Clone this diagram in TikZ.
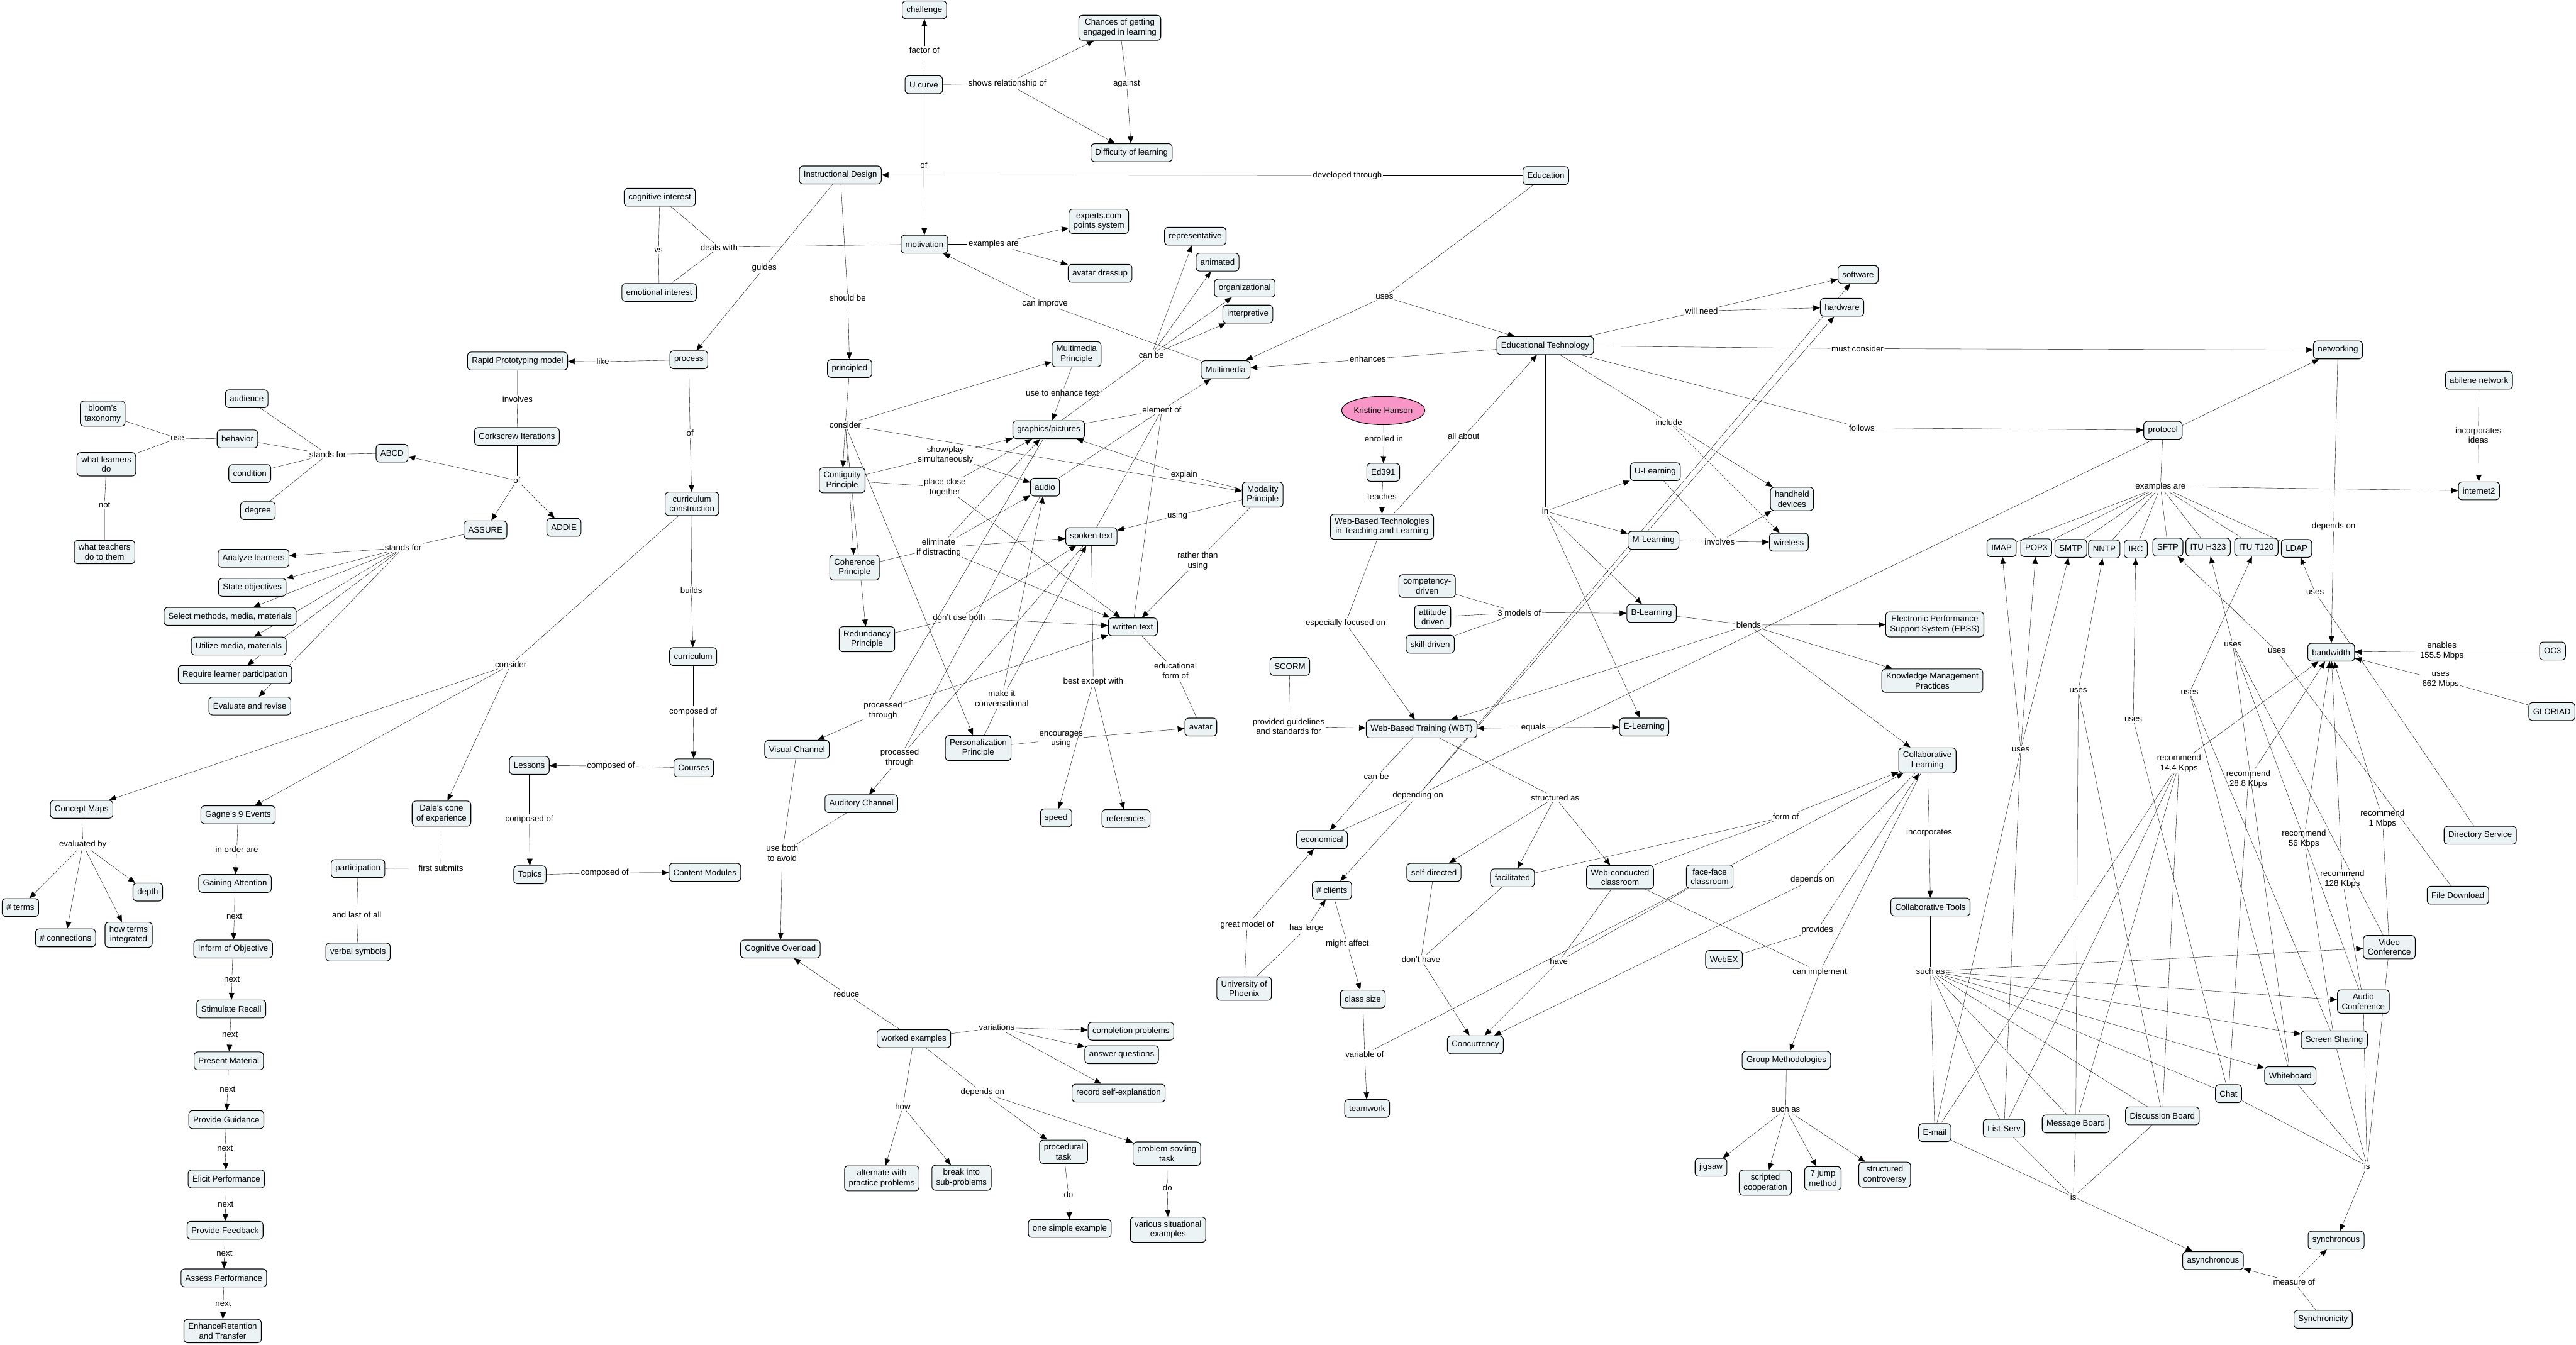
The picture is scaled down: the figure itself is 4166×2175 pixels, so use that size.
\documentclass[tikz,border=0pt]{standalone}
\usepackage{fontspec}
\setmainfont{Liberation Sans}
\usetikzlibrary{arrows.meta,shapes.geometric,backgrounds}
\definecolor{conceptfill}{RGB}{236,243,245}
\definecolor{personpink}{RGB}{249,150,200}

\begin{document}
\begin{tikzpicture}[x=1pt,y=-1pt,line width=1.1pt,
    every node/.style={font=\fontsize{13.5}{16}\selectfont},
    concept/.style={draw,rounded corners=6pt,fill=conceptfill,align=center,
                    inner xsep=7pt,inner ysep=6pt,minimum height=29pt},
    link/.style={inner sep=1.5pt,align=center},
    arr/.style={-{Triangle[length=11pt,width=9pt]}}]
  \useasboundingbox (0,0) rectangle (4166,2175);

  % concepts, left half
  \node[concept] (chal)    at (1495,16)  {challenge};
  \node[concept] (chanc)   at (1811,45)  {Chances of getting\\engaged in learning};
  \node[concept] (ucurve)  at (1494,137) {U curve};
  \node[concept] (diff)    at (1830,247) {Difficulty of learning};
  \node[concept] (instr)   at (1359,283) {Instructional Design};
  \node[concept] (educ)    at (2500,284) {Education};
  \node[concept] (cogint)  at (1067,319) {cognitive interest};
  \node[concept] (emoint)  at (1066,473) {emotional interest};
  \node[concept] (motiv)   at (1495,395) {motivation};
  \node[concept] (expcom)  at (1777,358) {experts.com\\points system};
  \node[concept] (avdress) at (1779,442) {avatar dressup};
  \node[concept] (repr)    at (1933,382) {representative};
  \node[concept] (anim)    at (1969,424) {animated};
  \node[concept] (organ)   at (2013,466) {organizational};
  \node[concept] (interp)  at (2018,508) {interpretive};
  \node[concept] (mmedia)  at (1982,598) {Multimedia};
  \node[concept] (proc)    at (1114,582) {process};
  \node[concept] (princ)   at (1374,596) {principled};
  \node[concept] (mmprin)  at (1741,573) {Multimedia\\Principle};
  \node[concept] (graph)   at (1696,695) {graphics/pictures};
  \node[concept] (rapid)   at (837,584)  {Rapid Prototyping model};
  \node[concept] (cork)    at (836,706)  {Corkscrew Iterations};
  \node[concept] (bloom)   at (166,669)  {bloom's\\taxonomy};
  \node[concept] (aud)     at (399,645)  {audience};
  \node[concept] (behav)   at (384,710)  {behavior};
  \node[concept] (wlearn)  at (172,751)  {what learners\\do};
  \node[concept] (abcd)    at (634,733)  {ABCD};
  \node[concept] (cond)    at (404,766)  {condition};
  \node[concept] (degr)    at (417,826)  {degree};
  \node[concept] (wteach)  at (169,893)  {what teachers\\do to them};
  \node[concept] (assure)  at (785,857)  {ASSURE};
  \node[concept] (addie)   at (912,853)  {ADDIE};
  \node[concept] (anal)    at (410,903)  {Analyze learners};
  \node[concept] (state)   at (408,950)  {State objectives};
  \node[concept] (select)  at (372,997)  {Select methods, media, materials};
  \node[concept] (util)    at (386,1045) {Utilize media, materials};
  \node[concept] (req)     at (380,1091) {Require learner participation};
  \node[concept] (evalr)   at (404,1142) {Evaluate and revise};
  \node[concept] (currc)   at (1119,815) {curriculum\\construction};
  \node[concept] (curr)    at (1121,1062) {curriculum};
  \node[concept] (courses) at (1122,1242) {Courses};
  \node[concept] (lessons) at (856,1238) {Lessons};
  \node[concept] (topics)  at (857,1415) {Topics};
  \node[concept] (content) at (1140,1411) {Content Modules};
  \node[concept] (cmaps)   at (132,1309) {Concept Maps};
  \node[concept] (gagne)   at (385,1318) {Gagne's 9 Events};
  \node[concept] (dale)    at (714,1316) {Dale's cone\\of experience};
  \node[concept] (partic)  at (579,1405) {participation};
  \node[concept] (verbal)  at (579,1540) {verbal symbols};
  \node[concept] (depth)   at (239,1443) {depth};
  \node[concept] (nterms)  at (33,1468)  {\# terms};
  \node[concept] (nconn)   at (106,1517) {\# connections};
  \node[concept] (howint)  at (208,1512) {how terms\\integrated};
  \node[concept] (gain)    at (380,1429) {Gaining Attention};
  \node[concept] (inform)  at (377,1535) {Inform of Objective};
  \node[concept] (recall)  at (374,1632) {Stimulate Recall};
  \node[concept] (present) at (370,1716) {Present Material};
  \node[concept] (guid)    at (366,1811) {Provide Guidance};
  \node[concept] (elicit)  at (366,1907) {Elicit Performance};
  \node[concept] (feedb)   at (364,1990) {Provide Feedback};
  \node[concept] (assess)  at (362,2067) {Assess Performance};
  \node[concept] (enh)     at (360,2153) {EnhanceRetention\\and Transfer};
  \node[concept] (contig)  at (1362,777) {Contiguity\\Principle};
  \node[concept] (coher)   at (1382,918) {Coherence\\Principle};
  \node[concept] (redund)  at (1402,1034) {Redundancy\\Principle};
  \node[concept] (person)  at (1582,1210) {Personalization\\Principle};
  \node[concept] (modal)   at (2042,800) {Modality\\Principle};
  \node[concept] (audio)   at (1690,788) {audio};
  \node[concept] (spoken)  at (1765,868) {spoken text};
  \node[concept] (written) at (1832,1014) {written text};
  \node[concept] (avatar)  at (1942,1176) {avatar};
  \node[concept] (speed)   at (1708,1323) {speed};
  \node[concept] (refs)    at (1821,1324) {references};
  \node[concept] (visual)  at (1289,1212) {Visual Channel};
  \node[concept] (audch)   at (1393,1300) {Auditory Channel};
  \node[concept] (cogov)   at (1262,1535) {Cognitive Overload};
  \node[concept] (worked)  at (1478,1680) {worked examples};
  \node[concept] (compl)   at (1829,1668) {completion problems};
  \node[concept] (answ)    at (1814,1706) {answer questions};
  \node[concept] (record)  at (1809,1768) {record self-explanation};
  \node[concept] (procd)   at (1720,1863) {procedural\\task};
  \node[concept] (probs)   at (1887,1866) {problem-sovling\\task};
  \node[concept] (altern)  at (1426,1906) {alternate with\\practice problems};
  \node[concept] (breakp)  at (1555,1905) {break into\\sub-problems};
  \node[concept] (onesimp) at (1730,1987) {one simple example};
  \node[concept] (various) at (1889,1989) {various situational\\examples};

  % concepts, right half
  \node[concept] (edtech)  at (2499,559) {Educational Technology};
  \node[concept] (soft)    at (3005,444) {software};
  \node[concept] (hard)    at (2979,497) {hardware};
  \node[draw,ellipse,fill=personpink,minimum width=117pt,minimum height=46pt,inner sep=0pt]
       (kris) at (2237,664) {Kristine Hanson};
  \node[concept] (ed391)   at (2237,764) {Ed391};
  \node[concept] (wbtech)  at (2235,852) {Web-Based Technologies\\in Teaching and Learning};
  \node[concept] (scorm)   at (2086,1078) {SCORM};
  \node[concept] (ulearn)  at (2677,763) {U-Learning};
  \node[concept] (mlearn)  at (2674,874) {M-Learning};
  \node[concept] (blearn)  at (2671,992) {B-Learning};
  \node[concept] (elearn)  at (2659,1176) {E-Learning};
  \node[concept] (handh)   at (2898,807) {handheld\\devices};
  \node[concept] (wirel)   at (2893,877) {wireless};
  \node[concept] (compd)   at (2308,948) {competency-\\driven};
  \node[concept] (attd)    at (2317,998) {attitude\\driven};
  \node[concept] (skilld)  at (2313,1042) {skill-driven};
  \node[concept] (epss)    at (3129,1010) {Electronic Performance\\Support System (EPSS)};
  \node[concept] (kmp)     at (3125,1101) {Knowledge Management\\Practices};
  \node[concept] (wbt)     at (2299,1179) {Web-Based Training (WBT)};
  \node[concept] (collab)  at (3117,1230) {Collaborative\\Learning};
  \node[concept] (econ)    at (2138,1358) {economical};
  \node[concept] (selfd)   at (2319,1411) {self-directed};
  \node[concept] (facil)   at (2446,1420) {facilitated};
  \node[concept] (webcl)   at (2620,1419) {Web-conducted\\classroom};
  \node[concept] (facecl)  at (2765,1418) {face-face\\classroom};
  \node[concept] (nclients) at (2154,1440) {\# clients};
  \node[concept] (ctools)  at (3122,1467) {Collaborative Tools};
  \node[concept] (webex)   at (2788,1552) {WebEX};
  \node[concept] (uphx)    at (2012,1599) {University of\\Phoenix};
  \node[concept] (csize)   at (2204,1616) {class size};
  \node[concept] (concur)  at (2386,1690) {Concurrency};
  \node[concept] (teamw)   at (2211,1793) {teamwork};
  \node[concept] (groupm)  at (2889,1715) {Group Methodologies};
  \node[concept] (jigsaw)  at (2767,1888) {jigsaw};
  \node[concept] (scripted) at (2855,1913) {scripted\\cooperation};
  \node[concept] (jump)    at (2948,1906) {7 jump\\method};
  \node[concept] (struct)  at (3048,1900) {structured\\controversy};
  \node[concept] (netw)    at (3781,566) {networking};
  \node[concept] (abil)    at (4009,615) {abilene network};
  \node[concept] (prot)    at (3498,696) {protocol};
  \node[concept] (internet) at (4009,794) {internet2};
  \node[concept] (imap)    at (3237,886) {IMAP};
  \node[concept] (pop)     at (3293,886) {POP3};
  \node[concept] (smtp)    at (3349,887) {SMTP};
  \node[concept] (nntp)    at (3403,888) {NNTP};
  \node[concept] (irc)     at (3454,888) {IRC};
  \node[concept] (sftp)    at (3506,885) {SFTP};
  \node[concept] (h323)    at (3571,885) {ITU H323};
  \node[concept] (t120)    at (3649,885) {ITU T120};
  \node[concept] (ldap)    at (3714,887) {LDAP};
  \node[concept] (bandw)   at (3770,1055) {bandwidth};
  \node[concept] (oc)      at (4128,1053) {OC3};
  \node[concept] (glor)    at (4127,1151) {GLORIAD};
  \node[concept] (dirs)    at (4011,1351) {Directory Service};
  \node[concept] (filed)   at (3975,1448) {File Download};
  \node[concept] (video)   at (3864,1532) {Video\\Conference};
  \node[concept] (audioc)  at (3822,1620) {Audio\\Conference};
  \node[concept] (screen)  at (3775,1682) {Screen Sharing};
  \node[concept] (white)   at (3704,1740) {Whiteboard};
  \node[concept] (chat)    at (3604,1769) {Chat};
  \node[concept] (discb)   at (3497,1805) {Discussion Board};
  \node[concept] (msgb)    at (3357,1818) {Message Board};
  \node[concept] (lists)   at (3241,1825) {List-Serv};
  \node[concept] (email)   at (3129,1832) {E-mail};
  \node[concept] (sync)    at (3778,2006) {synchronous};
  \node[concept] (async)   at (3579,2039) {asynchronous};
  \node[concept] (synchr)  at (3757,2134) {Synchronicity};

  % linking phrases
  \node[link] (lfac)    at (1495,81)   {factor of};
  \node[link] (lshow)   at (1629,135)  {shows relationship of};
  \node[link] (lagainst) at (1822,135) {against};
  \node[link] (lof1)    at (1494,267)  {of};
  \node[link] (ldev)    at (2179,284)  {developed through};
  \node[link] (lvs)     at (1065,405)  {vs};
  \node[link] (ldeals)  at (1163,400)  {deals with};
  \node[link] (lguides) at (1236,433)  {guides};
  \node[link] (lexam)   at (1607,395)  {examples are};
  \node[link] (limpr)   at (1690,491)  {can improve};
  \node[link] (lshould) at (1371,482)  {should be};
  \node[link] (lcanbe)  at (1862,574)  {can be};
  \node[link] (luse)    at (1718,635)  {use to enhance text};
  \node[link] (lelem)   at (1879,663)  {element of};
  \node[link] (lcons)   at (1367,687)  {consider};
  \node[link] (lof2)    at (1116,701)  {of};
  \node[link] (llike)   at (975,585)   {like};
  \node[link] (linv)    at (837,646)   {involves};
  \node[link] (luseb)   at (287,709)   {use};
  \node[link] (lstab)   at (530,735)   {stands for};
  \node[link] (lof3)    at (836,777)   {of};
  \node[link] (lnot)    at (169,817)   {not};
  \node[link] (lstas)   at (652,886)   {stands for};
  \node[link] (lcons2)  at (826,1075)  {consider};
  \node[link] (lbuilds) at (1118,955)  {builds};
  \node[link] (lcomp0)  at (1121,1151) {composed of};
  \node[link] (lcomp1)  at (988,1239)  {composed of};
  \node[link] (lcomp2)  at (856,1325)  {composed of};
  \node[link] (lcomp3)  at (978,1412)  {composed of};
  \node[link] (leval)   at (134,1366)  {evaluated by};
  \node[link] (lorder)  at (383,1374)  {in order are};
  \node[link] (lfirst)  at (713,1404)  {first submits};
  \node[link] (llast)   at (577,1480)  {and last of all};
  \foreach \n/\x/\y in {1/379/1482,2/375/1584,3/372/1673,4/368/1762,
                        5/364/1857,6/365/1948,7/363/2027,8/361/2109}
    \node[link] (next\n) at (\x,\y) {next};
  \node[link] (lshowp)  at (1529,736)  {show/play\\simultaneously};
  \node[link] (lplace)  at (1528,788)  {place close\\together};
  \node[link] (lexpl)   at (1915,768)  {explain};
  \node[link] (lusing)  at (1904,834)  {using};
  \node[link] (lelim)   at (1518,886)  {eliminate\\if distracting};
  \node[link] (lrather) at (1937,907)  {rather than\\using};
  \node[link] (ldont)   at (1551,999)  {don't use both};
  \node[link] (leduf)   at (1901,1085) {educational\\form of};
  \node[link] (lbest)   at (1768,1103) {best except with};
  \node[link] (lmake)   at (1620,1130) {make it\\conversational};
  \node[link] (lprocv)  at (1428,1149) {processed\\through};
  \node[link] (lenc)    at (1716,1196) {encourages\\using};
  \node[link] (lproca)  at (1455,1226) {processed\\through};
  \node[link] (lboth)   at (1265,1380) {use both\\to avoid};
  \node[link] (lreduce) at (1369,1608) {reduce};
  \node[link] (lvari)   at (1612,1662) {variations};
  \node[link] (ldepw)   at (1589,1767) {depends on};
  \node[link] (lhow)    at (1460,1790) {how};
  \node[link] (ldo1)    at (1728,1932) {do};
  \node[link] (ldo2)    at (1888,1921) {do};
  \node[link] (luses)   at (2239,480)  {uses};
  \node[link] (lenh)    at (2212,581)  {enhances};
  \node[link] (lneed)   at (2752,503)  {will need};
  \node[link] (lmust)   at (3004,564)  {must consider};
  \node[link] (lenr)    at (2238,710)  {enrolled in};
  \node[link] (lall)    at (2367,706)  {all about};
  \node[link] (linc)    at (2699,683)  {include};
  \node[link] (lfoll)   at (3011,692)  {follows};
  \node[link] (lincid)  at (4008,704)  {incorporates\\ideas};
  \node[link] (lteach)  at (2235,803)  {teaches};
  \node[link] (lin)     at (2499,827)  {in};
  \node[link] (linvm)   at (2781,876)  {involves};
  \node[link] (l3mod)   at (2457,991)  {3 models of};
  \node[link] (lfocus)  at (2176,1008) {especially focused on};
  \node[link] (lblends) at (2828,1011) {blends};
  \node[link] (lprov)   at (2084,1175) {provided guidelines\\and standards for};
  \node[link] (lequals) at (2480,1177) {equals};
  \node[link] (lcanbe2) at (2226,1256) {can be};
  \node[link] (ldep)    at (2293,1287) {depending on};
  \node[link] (lstruct) at (2515,1290) {structured as};
  \node[link] (lform)   at (2888,1321) {form of};
  \node[link] (lincorp) at (3120,1347) {incorporates};
  \node[link] (ldepon)  at (2931,1423) {depends on};
  \node[link] (lgreat)  at (2017,1496) {great model of};
  \node[link] (lhas)    at (2113,1501) {has large};
  \node[link] (lmight)  at (2179,1527) {might affect};
  \node[link] (ldonth)  at (2298,1552) {don't have};
  \node[link] (lhave)   at (2521,1555) {have};
  \node[link] (lprovs)  at (2939,1504) {provides};
  \node[link] (limpl)   at (2943,1572) {can implement};
  \node[link] (lsuch)   at (3122,1571) {such as};
  \node[link] (lvar)    at (2207,1705) {variable of};
  \node[link] (lsuchg)  at (2888,1794) {such as};
  \node[link] (lexprot) at (3494,787)  {examples are};
  \node[link] (ldepbw)  at (3774,851)  {depends on};
  \node[link] (lusldap) at (3744,958)  {uses};
  \node[link] (lush323) at (3611,1042) {uses};
  \node[link] (lussftp) at (3682,1053) {uses};
  \node[link] (lenab)   at (3949,1053) {enables\\155.5 Mbps};
  \node[link] (lus662)  at (3947,1100) {uses\\662 Mbps};
  \node[link] (lusnntp) at (3361,1117) {uses};
  \node[link] (lust120) at (3541,1120) {uses};
  \node[link] (lusirc)  at (3450,1164) {uses};
  \node[link] (lusimap) at (3268,1212) {uses};
  \node[link] (lrec14)  at (3524,1235) {recommend\\14.4 Kpps};
  \node[link] (lrec28)  at (3636,1260) {recommend\\28.8 Kbps};
  \node[link] (lrec1m)  at (3853,1324) {recommend\\1 Mbps};
  \node[link] (lrec56)  at (3726,1357) {recommend\\56 Kbps};
  \node[link] (lrec128) at (3788,1422) {recommend\\128 Kbps};
  \node[link] (lissync) at (3828,1886) {is};
  \node[link] (lisasync) at (3353,1936) {is};
  \node[link] (lmeas)   at (3710,2074) {measure of};

  \begin{scope}[on background layer]
    % left half
    \draw (ucurve) -- (lfac); \draw[arr] (lfac) -- (chal);
    \draw (ucurve) -- (lshow);
    \foreach \t in {chanc,diff} \draw[arr] (lshow) -- (\t);
    \draw (chanc) -- (lagainst); \draw[arr] (lagainst) -- (diff);
    \draw (ucurve) -- (lof1); \draw[arr] (lof1) -- (motiv);
    \draw (educ) -- (ldev); \draw[arr] (ldev) -- (instr);
    \draw (cogint) -- (lvs) -- (emoint);
    \draw (motiv) -- (ldeals) -- (cogint); \draw (ldeals) -- (emoint);
    \draw (instr) -- (lguides); \draw[arr] (lguides) -- (proc);
    \draw (instr) -- (lshould); \draw[arr] (lshould) -- (princ);
    \draw (motiv) -- (lexam);
    \foreach \t in {expcom,avdress} \draw[arr] (lexam) -- (\t);
    \draw (mmedia) -- (limpr); \draw[arr] (limpr) -- (motiv);
    \draw (graph) -- (lcanbe);
    \foreach \t in {repr,anim,organ,interp} \draw[arr] (lcanbe) -- (\t);
    \draw (mmprin) -- (luse); \draw[arr] (luse) -- (graph);
    \foreach \s in {graph,audio,spoken,written} \draw (\s) -- (lelem);
    \draw[arr] (lelem) -- (mmedia);
    \draw (princ) -- (lcons);
    \foreach \t in {mmprin,contig,coher,redund,modal,person} \draw[arr] (lcons) -- (\t);
    \draw (contig) -- (lshowp);
    \foreach \t in {graph,audio} \draw[arr] (lshowp) -- (\t);
    \draw (contig) -- (lplace);
    \foreach \t in {graph,written} \draw[arr] (lplace) -- (\t);
    \draw (coher) -- (lelim);
    \foreach \t in {graph,audio,spoken,written} \draw[arr] (lelim) -- (\t);
    \draw (redund) -- (ldont);
    \foreach \t in {spoken,written} \draw[arr] (ldont) -- (\t);
    \draw (modal) -- (lexpl); \draw[arr] (lexpl) -- (graph);
    \draw (modal) -- (lusing); \draw[arr] (lusing) -- (spoken);
    \draw (modal) -- (lrather); \draw[arr] (lrather) -- (written);
    \draw (person) -- (lmake);
    \foreach \t in {audio,spoken} \draw[arr] (lmake) -- (\t);
    \draw (person) -- (lenc); \draw[arr] (lenc) -- (avatar);
    \draw (spoken) -- (lbest);
    \foreach \t in {speed,refs} \draw[arr] (lbest) -- (\t);
    \draw (written) -- (leduf) -- (avatar);
    \draw (graph) -- (lprocv); \draw[arr] (lprocv) -- (written);
    \draw[arr] (lprocv) -- (visual);
    \foreach \s in {audio,spoken} \draw (\s) -- (lproca);
    \draw[arr] (lproca) -- (audch);
    \foreach \s in {visual,audch} \draw (\s) -- (lboth);
    \draw[arr] (lboth) -- (cogov);
    \draw (worked) -- (lreduce); \draw[arr] (lreduce) -- (cogov);
    \draw (worked) -- (lvari);
    \foreach \t in {compl,answ,record} \draw[arr] (lvari) -- (\t);
    \draw (worked) -- (lhow);
    \foreach \t in {altern,breakp} \draw[arr] (lhow) -- (\t);
    \draw (worked) -- (ldepw);
    \foreach \t in {procd,probs} \draw[arr] (ldepw) -- (\t);
    \draw (procd) -- (ldo1); \draw[arr] (ldo1) -- (onesimp);
    \draw (probs) -- (ldo2); \draw[arr] (ldo2) -- (various);
    \draw (proc) -- (llike); \draw[arr] (llike) -- (rapid);
    \draw (rapid) -- (linv) -- (cork);
    \draw (cork) -- (lof3);
    \foreach \t in {abcd,assure,addie} \draw[arr] (lof3) -- (\t);
    \draw (abcd) -- (lstab);
    \foreach \t in {aud,behav,cond,degr} \draw (lstab) -- (\t);
    \draw (behav) -- (luseb) -- (bloom); \draw (luseb) -- (wlearn);
    \draw (wlearn) -- (lnot) -- (wteach);
    \draw (assure) -- (lstas);
    \foreach \t in {anal,state,select,util,req,evalr} \draw[arr] (lstas) -- (\t);
    \draw (proc) -- (lof2); \draw[arr] (lof2) -- (currc);
    \draw (currc) -- (lbuilds); \draw[arr] (lbuilds) -- (curr);
    \draw (curr) -- (lcomp0); \draw[arr] (lcomp0) -- (courses);
    \draw (courses) -- (lcomp1); \draw[arr] (lcomp1) -- (lessons);
    \draw (lessons) -- (lcomp2); \draw[arr] (lcomp2) -- (topics);
    \draw (topics) -- (lcomp3); \draw[arr] (lcomp3) -- (content);
    \draw (currc) -- (lcons2);
    \foreach \t in {cmaps,gagne,dale} \draw[arr] (lcons2) -- (\t);
    \draw (cmaps) -- (leval);
    \foreach \t in {nterms,nconn,howint,depth} \draw[arr] (leval) -- (\t);
    \draw (gagne) -- (lorder); \draw[arr] (lorder) -- (gain);
    \foreach \a/\n/\b in {gain/1/inform,inform/2/recall,recall/3/present,present/4/guid,
                          guid/5/elicit,elicit/6/feedb,feedb/7/assess,assess/8/enh}
      {\draw (\a) -- (next\n); \draw[arr] (next\n) -- (\b);}
    \draw (dale) -- (lfirst) -- (partic);
    \draw (partic) -- (llast) -- (verbal);

    % right half
    \draw (educ) -- (luses);
    \foreach \t in {edtech,mmedia} \draw[arr] (luses) -- (\t);
    \draw (edtech) -- (lenh); \draw[arr] (lenh) -- (mmedia);
    \draw (edtech) -- (lneed);
    \foreach \t in {soft,hard} \draw[arr] (lneed) -- (\t);
    \draw (edtech) -- (lmust); \draw[arr] (lmust) -- (netw);
    \draw (edtech) -- (lfoll); \draw[arr] (lfoll) -- (prot);
    \draw (kris) -- (lenr); \draw[arr] (lenr) -- (ed391);
    \draw (ed391) -- (lteach); \draw[arr] (lteach) -- (wbtech);
    \draw (wbtech) -- (lall); \draw[arr] (lall) -- (edtech);
    \draw (wbtech) -- (lfocus); \draw[arr] (lfocus) -- (wbt);
    \draw (scorm) -- (lprov); \draw[arr] (lprov) -- (wbt);
    \draw (edtech) -- (lin);
    \foreach \t in {ulearn,mlearn,blearn,elearn} \draw[arr] (lin) -- (\t);
    \draw (edtech) -- (linc);
    \foreach \t in {handh,wirel} \draw[arr] (linc) -- (\t);
    \foreach \s in {ulearn,mlearn} \draw (\s) -- (linvm);
    \foreach \t in {handh,wirel} \draw[arr] (linvm) -- (\t);
    \foreach \s in {compd,attd,skilld} \draw (\s) -- (l3mod);
    \draw[arr] (l3mod) -- (blearn);
    \draw (blearn) -- (lblends);
    \foreach \t in {epss,kmp,collab,wbt} \draw[arr] (lblends) -- (\t);
    \draw[arr] (lequals) -- (wbt); \draw[arr] (lequals) -- (elearn);
    \draw (wbt) -- (lcanbe2); \draw[arr] (lcanbe2) -- (econ);
    \draw (econ) -- (ldep);
    \foreach \t in {nclients,hard,soft,netw} \draw[arr] (ldep) -- (\t);
    \draw (wbt) -- (lstruct);
    \foreach \t in {selfd,facil,webcl} \draw[arr] (lstruct) -- (\t);
    \foreach \s in {facil,webcl} \draw (\s) -- (lform);
    \draw[arr] (lform) -- (collab);
    \draw[arr] (facecl) -- (collab);
    \draw (collab) -- (lincorp); \draw[arr] (lincorp) -- (ctools);
    \draw (collab) -- (ldepon); \draw[arr] (ldepon) -- (concur);
    \draw (webex) -- (lprovs); \draw[arr] (lprovs) -- (collab);
    \foreach \s in {collab,webcl} \draw (\s) -- (limpl);
    \draw[arr] (limpl) -- (groupm);
    \draw (groupm) -- (lsuchg);
    \foreach \t in {jigsaw,scripted,jump,struct} \draw[arr] (lsuchg) -- (\t);
    \draw (uphx) -- (lgreat); \draw[arr] (lgreat) -- (econ);
    \draw (uphx) -- (lhas); \draw[arr] (lhas) -- (nclients);
    \draw (nclients) -- (lmight); \draw[arr] (lmight) -- (csize);
    \draw (csize) -- (lvar); \draw[arr] (lvar) -- (teamw);
    \draw (facecl) -- (lvar);
    \foreach \s in {selfd,facil} \draw (\s) -- (ldonth);
    \draw[arr] (ldonth) -- (concur);
    \foreach \s in {webcl,facecl} \draw (\s) -- (lhave);
    \draw[arr] (lhave) -- (concur);
    \draw (ctools) -- (lsuch);
    \foreach \t in {email,lists,msgb,discb,chat} \draw (lsuch) -- (\t);
    \foreach \t in {white,screen,audioc,video} \draw[arr] (lsuch) -- (\t);
    \draw (prot) -- (lexprot);
    \foreach \t in {imap,pop,smtp,nntp,irc,sftp,h323,t120,ldap} \draw (lexprot) -- (\t);
    \draw[arr] (lexprot) -- (internet);
    \draw (abil) -- (lincid); \draw[arr] (lincid) -- (internet);
    \draw (netw) -- (ldepbw); \draw[arr] (ldepbw) -- (bandw);
    \draw (oc) -- (lenab); \draw[arr] (lenab) -- (bandw);
    \draw (glor) -- (lus662); \draw[arr] (lus662) -- (bandw);
    \foreach \s in {email,lists} \draw (\s) -- (lusimap);
    \foreach \t in {imap,pop,smtp} \draw[arr] (lusimap) -- (\t);
    \foreach \s in {msgb,discb} \draw (\s) -- (lusnntp);
    \draw[arr] (lusnntp) -- (nntp);
    \draw (chat) -- (lusirc); \draw[arr] (lusirc) -- (irc);
    \foreach \s in {white,screen} \draw (\s) -- (lust120);
    \draw[arr] (lust120) -- (t120);
    \foreach \s in {white,audioc,video} \draw (\s) -- (lush323);
    \draw[arr] (lush323) -- (h323);
    \draw (filed) -- (lussftp); \draw[arr] (lussftp) -- (sftp);
    \draw (dirs) -- (lusldap); \draw[arr] (lusldap) -- (ldap);
    \foreach \s in {email,lists,msgb,discb} \draw (\s) -- (lrec14);
    \draw[arr] (lrec14) -- (bandw);
    \draw (chat) -- (lrec28); \draw[arr] (lrec28) -- (bandw);
    \draw (screen) -- (lrec56); \draw[arr] (lrec56) -- (bandw);
    \draw (audioc) -- (lrec128); \draw[arr] (lrec128) -- (bandw);
    \draw (video) -- (lrec1m); \draw[arr] (lrec1m) -- (bandw);
    \foreach \s in {chat,white,screen,audioc,video} \draw (\s) -- (lissync);
    \draw[arr] (lissync) -- (sync);
    \foreach \s in {email,lists,msgb,discb} \draw (\s) -- (lisasync);
    \draw[arr] (lisasync) -- (async);
    \draw (synchr) -- (lmeas);
    \foreach \t in {async,sync} \draw[arr] (lmeas) -- (\t);
  \end{scope}
\end{tikzpicture}
\end{document}
